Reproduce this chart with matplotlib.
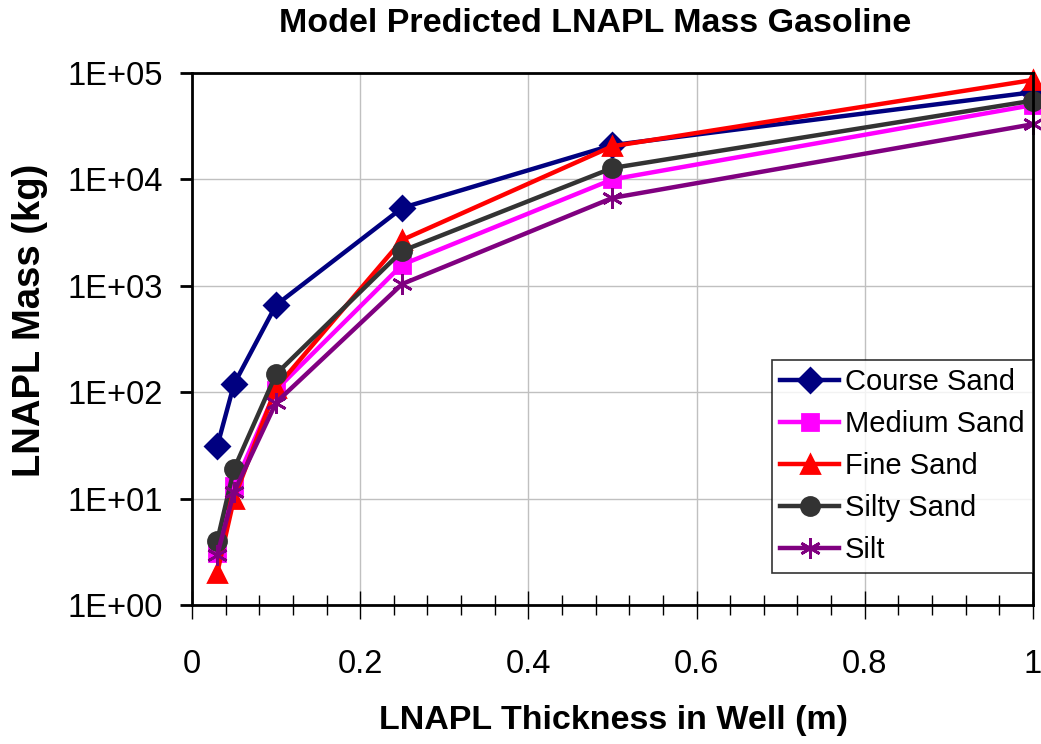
import matplotlib
matplotlib.use("Agg")
import matplotlib.pyplot as plt
from matplotlib.ticker import FixedLocator, MultipleLocator, NullLocator, FixedFormatter

plt.rcParams['font.family'] = ['Liberation Sans', 'DejaVu Sans']

thickness = [0.03, 0.05, 0.1, 0.25, 0.5, 1.0]
course_sand = [31, 119, 660, 5400, 21000, 66000]
medium_sand = [3.1, 13, 105, 1580, 10000, 50000]
fine_sand = [2, 10, 110, 2700, 20500, 86000]
silty_sand = [4, 19, 148, 2130, 12800, 55000]
silt = [2.95, 11.5, 80, 1040, 6700, 33000]

series = [
    ("Course Sand", course_sand, "#000080", "D", 12),
    ("Medium Sand", medium_sand, "#FF00FF", "s", 12),
    ("Fine Sand", fine_sand, "#FF0000", "^", 13),
    ("Silty Sand", silty_sand, "#333333", "o", 13),
    ("Silt", silt, "#800080", (6, 2, 0), 15),
]

fig = plt.figure(figsize=(10.41, 7.44), dpi=100)
ax = fig.add_axes([0.1844, 0.1868, 0.8079, 0.7151])

for name, vals, col, mk, ms in series:
    ax.plot(thickness, vals, color=col, lw=3.2, marker=mk, markersize=ms,
            markerfacecolor=col, markeredgecolor=col, markeredgewidth=2,
            label=name, clip_on=False)

ax.set_yscale("log")
ax.set_ylim(1, 1e5)
ax.set_xlim(0, 1)
ax.yaxis.set_major_locator(FixedLocator([1, 10, 100, 1e3, 1e4, 1e5]))
ax.yaxis.set_major_formatter(FixedFormatter(["1E+00", "1E+01", "1E+02", "1E+03", "1E+04", "1E+05"]))
ax.yaxis.set_minor_locator(NullLocator())
ax.xaxis.set_minor_locator(MultipleLocator(0.04))
ax.set_xticks([0, 0.2, 0.4, 0.6, 0.8, 1.0])
ax.set_xticklabels(["0", "0.2", "0.4", "0.6", "0.8", "1"])

ax.grid(True, which="major", color="#c0c0c0", lw=1)
ax.set_axisbelow(True)
for s in ax.spines.values():
    s.set_linewidth(2)
    s.set_color("black")

ax.tick_params(axis="y", which="major", direction="out", length=9, width=2, labelsize=23.5, pad=12)
ax.tick_params(axis="x", which="major", direction="inout", length=20, width=1, labelsize=23.5, pad=22)
ax.tick_params(axis="x", which="minor", direction="inout", length=15, width=1)

leg = ax.legend(loc="lower right", bbox_to_anchor=(1.0, 0.06), fontsize=21, frameon=True,
                fancybox=False, edgecolor="black", borderaxespad=0, handlelength=2.0,
                borderpad=0.3, labelspacing=0.48, handletextpad=0.2)
leg.get_frame().set_linewidth(1.2)

fig.text(0.5716, 0.968, "Model Predicted LNAPL Mass Gasoline", ha="center", va="center",
         fontsize=24.5, fontweight="bold")
fig.text(0.029, 0.570, "LNAPL Mass (kg)", ha="center", va="center", rotation=90,
         fontsize=27.5, fontweight="bold")
fig.text(0.589, 0.031, "LNAPL Thickness in Well (m)", ha="center", va="center",
         fontsize=24.5, fontweight="bold")

fig.savefig("out.png", dpi=100)
